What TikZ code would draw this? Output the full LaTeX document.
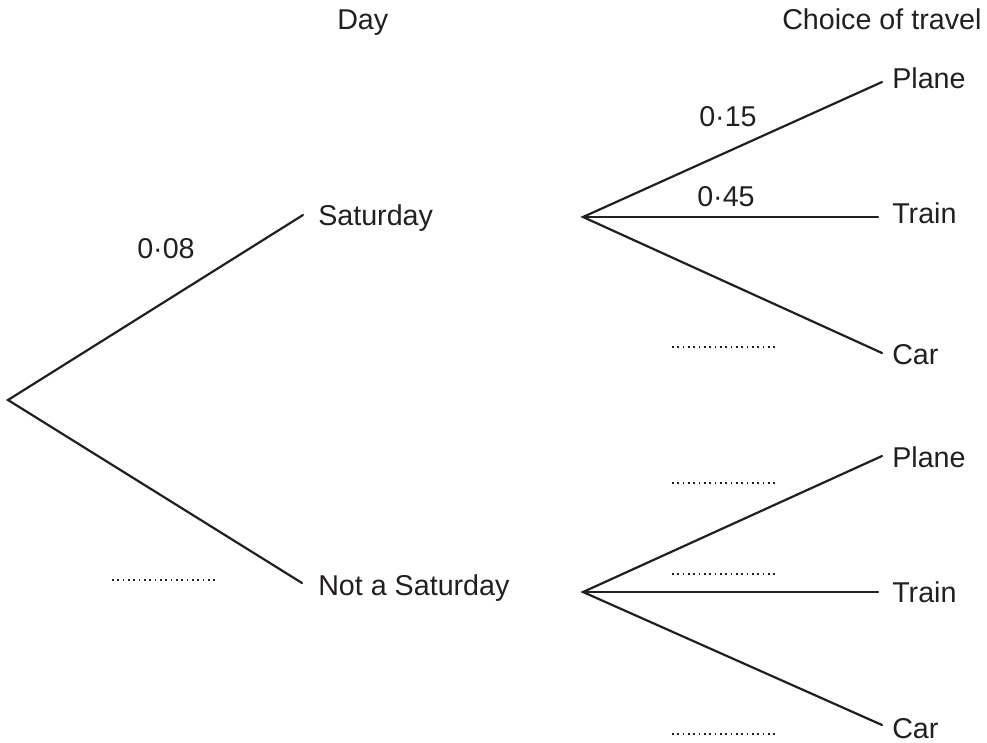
\documentclass[tikz,border=0pt]{standalone}
\usepackage{fontspec}
\setmainfont{Liberation Sans}
\definecolor{ink}{HTML}{231F20}
\begin{document}
\begin{tikzpicture}[x=0.75pt,y=-0.75pt,
  branch/.style={draw=ink,line width=1.65pt,line cap=round},
  blank/.style={draw=ink,line width=1.2pt,dash pattern=on 1.2pt off 2.8pt},
  lbl/.style={anchor=base west,inner sep=0pt,text=ink,font=\fontsize{21.5}{25}\selectfont}]
\useasboundingbox (0,0) rectangle (987,742);
% branch points
\coordinate (root) at (8,400);
\coordinate (sat) at (303,215);
\coordinate (nsat) at (302,583);
\coordinate (u) at (583,217);
\coordinate (up) at (882,82);
\coordinate (ut) at (878,217);
\coordinate (uc) at (882,353);
\coordinate (l) at (583,592);
\coordinate (lp) at (882,456);
\coordinate (lt) at (878,592);
\coordinate (lc) at (882,725);
% branches
\draw[branch] (sat) -- (root) -- (nsat);
\draw[branch] (up) -- (u) -- (uc);
\draw[branch] (u) -- (ut);
\draw[branch] (lp) -- (l) -- (lc);
\draw[branch] (l) -- (lt);
% headings
\node[lbl] (hday) at (337,30) {Day};
\node[lbl] (hchoice) at (782,30) {Choice of travel};
% outcomes
\node[lbl] (tsat) at (318,225) {Saturday};
\node[lbl] (tnsat) at (318,595) {Not a Saturday};
\node[lbl] (tup) at (892,89) {Plane};
\node[lbl] (tut) at (892,223) {Train};
\node[lbl] (tuc) at (892,364) {Car};
\node[lbl] (tlp) at (892,467) {Plane};
\node[lbl] (tlt) at (892,602) {Train};
\node[lbl] (tlc) at (892,738) {Car};
% probabilities
\node[lbl] (p08) at (137,258) {0·08};
\node[lbl] (p15) at (699,126) {0·15};
\node[lbl] (p45) at (697,206) {0·45};
% blanks
\coordinate (b1a) at (112,580); \coordinate (b1b) at (218,580);
\coordinate (b2a) at (672,347); \coordinate (b2b) at (778,347);
\coordinate (b3a) at (672,483); \coordinate (b3b) at (778,483);
\coordinate (b4a) at (672,574); \coordinate (b4b) at (778,574);
\coordinate (b5a) at (672,734); \coordinate (b5b) at (778,734);
\draw[blank] (b1a) -- (b1b);
\draw[blank] (b2a) -- (b2b);
\draw[blank] (b3a) -- (b3b);
\draw[blank] (b4a) -- (b4b);
\draw[blank] (b5a) -- (b5b);
\end{tikzpicture}
\end{document}
